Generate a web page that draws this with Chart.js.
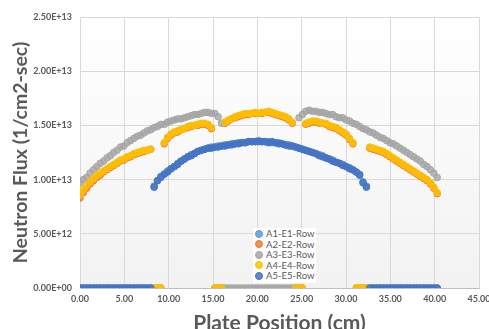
<!DOCTYPE html>
<html>
<head>
<meta charset="utf-8">
<script src="https://cdn.jsdelivr.net/npm/chart.js@4.4.1/dist/chart.umd.min.js"></script>
<style>
  html, body { margin: 0; padding: 0; background: #fff; }
  #wrap { position: relative; width: 489px; height: 329px; overflow: hidden; }
  #legend {
    position: absolute; left: 253px; top: 228px;
    background: #fff; padding: 1px 2px;
    font-family: Lato, 'Noto Sans', sans-serif; font-size: 9.5px; color: #595959;
    line-height: 10.6px;
  }
  #legend span.dot {
    display: inline-block; width: 6px; height: 6px; border-radius: 50%;
    margin-right: 3px; vertical-align: -0.5px;
  }
</style>
</head>
<body>
<div id="wrap">
  <canvas id="fluxChart" width="489" height="329"></canvas>
  <div id="legend"></div>
</div>
<script>
'use strict';

// plate positions (cm), shared by every row
var positions = [
  0.00, 0.38, 0.76, 1.14, 1.52, 1.90, 2.28, 2.66, 3.04, 3.42,
  3.80, 4.18, 4.56, 4.94, 5.32, 5.70, 6.08, 6.46, 6.84, 7.22,
  7.60, 7.98, 8.36, 8.74, 9.12, 9.50, 9.88, 10.26, 10.64, 11.02,
  11.40, 11.78, 12.16, 12.54, 12.92, 13.30, 13.68, 14.06, 14.44, 14.82,
  15.20, 15.58, 15.96, 16.34, 16.72, 17.10, 17.48, 17.86, 18.24, 18.62,
  19.00, 19.38, 19.76, 20.14, 20.52, 20.90, 21.28, 21.66, 22.04, 22.42,
  22.80, 23.18, 23.56, 23.94, 24.32, 24.70, 25.08, 25.46, 25.84, 26.22,
  26.60, 26.98, 27.36, 27.74, 28.12, 28.50, 28.88, 29.26, 29.64, 30.02,
  30.40, 30.78, 31.16, 31.54, 31.92, 32.30, 32.68, 33.06, 33.44, 33.82,
  34.20, 34.58, 34.96, 35.34, 35.72, 36.10, 36.48, 36.86, 37.24, 37.62,
  38.00, 38.38, 38.76, 39.14, 39.52, 39.90, 40.28
];

// flux values in units of 1E+13 /cm2-sec
var fluxA1 = [
  0, 0, 0, 0, 0, 0, 0, 0, 0, 0,
  0, 0, 0, 0, 0, 0, 0, 0, 0, 0,
  0, 0, 0.94, 0.99, 1.03, 1.05, 1.08, 1.10, 1.12, 1.15,
  1.17, 1.19, 1.21, 1.23, 1.24, 1.26, 1.27, 1.28, 1.29, 1.30,
  1.30, 1.31, 1.31, 1.32, 1.32, 1.33, 1.33, 1.34, 1.34, 1.34,
  1.35, 1.35, 1.35, 1.36, 1.35, 1.35, 1.35, 1.34, 1.34, 1.34,
  1.33, 1.32, 1.32, 1.31, 1.30, 1.29, 1.28, 1.27, 1.26, 1.25,
  1.24, 1.23, 1.22, 1.20, 1.19, 1.18, 1.16, 1.15, 1.14, 1.12,
  1.11, 1.09, 1.07, 1.05, 0.98, 0.94, 0, 0, 0, 0,
  0, 0, 0, 0, 0, 0, 0, 0, 0, 0,
  0, 0, 0, 0, 0, 0, 0
];
var fluxA2 = [
  0.83, 0.88, 0.92, 0.96, 0.99, 1.02, 1.04, 1.07, 1.09, 1.11,
  1.13, 1.15, 1.17, 1.18, 1.20, 1.21, 1.23, 1.24, 1.25, 1.26,
  1.27, 1.28, 0, 0, 0, 1.33, 1.38, 1.41, 1.43, 1.44,
  1.46, 1.47, 1.48, 1.49, 1.50, 1.50, 1.51, 1.51, 1.50, 1.47,
  0, 0, 0, 1.52, 1.54, 1.56, 1.57, 1.58, 1.59, 1.60,
  1.60, 1.61, 1.61, 1.61, 1.61, 1.62, 1.62, 1.61, 1.60, 1.59,
  1.58, 1.57, 1.55, 1.52, 0, 0, 0, 1.51, 1.52, 1.53,
  1.53, 1.52, 1.52, 1.51, 1.49, 1.48, 1.47, 1.45, 1.43, 1.41,
  1.37, 1.33, 0, 0, 0, 0, 1.29, 1.28, 1.27, 1.26,
  1.25, 1.23, 1.21, 1.19, 1.17, 1.15, 1.13, 1.11, 1.09, 1.07,
  1.05, 1.03, 1.01, 0.99, 0.96, 0.92, 0.87
];
var fluxA3 = [
  0.97, 1.00, 1.02, 1.06, 1.09, 1.12, 1.15, 1.17, 1.20, 1.22,
  1.25, 1.27, 1.30, 1.31, 1.34, 1.36, 1.38, 1.40, 1.41, 1.43,
  1.45, 1.46, 1.48, 1.49, 1.51, 1.51, 1.53, 1.54, 1.55, 1.56,
  1.56, 1.57, 1.58, 1.59, 1.60, 1.60, 1.61, 1.62, 1.62, 1.61,
  1.61, 1.58, 1.52, 0, 0, 0, 0, 0, 0, 0,
  0, 0, 0, 0, 0, 0, 0, 0, 0, 0,
  0, 0, 0, 0, 0, 1.57, 1.60, 1.63, 1.64, 1.63,
  1.63, 1.62, 1.62, 1.61, 1.60, 1.60, 1.58, 1.57, 1.57, 1.55,
  1.54, 1.52, 1.51, 1.49, 1.47, 1.46, 1.44, 1.43, 1.41, 1.39,
  1.38, 1.36, 1.34, 1.33, 1.31, 1.29, 1.27, 1.25, 1.23, 1.21,
  1.19, 1.17, 1.14, 1.12, 1.09, 1.06, 1.02
];
var fluxA4 = [
  0.86, 0.91, 0.95, 0.98, 1.01, 1.04, 1.06, 1.08, 1.10, 1.12,
  1.14, 1.16, 1.18, 1.19, 1.21, 1.22, 1.24, 1.25, 1.26, 1.27,
  1.27, 1.28, 0, 0, 0, 1.34, 1.39, 1.42, 1.44, 1.45,
  1.46, 1.47, 1.49, 1.50, 1.50, 1.51, 1.52, 1.52, 1.51, 1.48,
  0, 0, 0, 1.53, 1.55, 1.56, 1.58, 1.59, 1.60, 1.61,
  1.61, 1.61, 1.62, 1.61, 1.62, 1.62, 1.63, 1.62, 1.61, 1.60,
  1.59, 1.58, 1.56, 1.53, 0, 0, 0, 1.52, 1.53, 1.54,
  1.54, 1.53, 1.52, 1.52, 1.50, 1.49, 1.48, 1.46, 1.44, 1.42,
  1.38, 1.34, 0, 0, 0, 0, 1.30, 1.29, 1.28, 1.27,
  1.26, 1.24, 1.22, 1.20, 1.18, 1.16, 1.14, 1.12, 1.10, 1.08,
  1.06, 1.04, 1.02, 1.00, 0.97, 0.93, 0.88
];
var fluxA5 = [
  0, 0, 0, 0, 0, 0, 0, 0, 0, 0,
  0, 0, 0, 0, 0, 0, 0, 0, 0, 0,
  0, 0, 0.93, 0.99, 1.02, 1.05, 1.07, 1.10, 1.12, 1.14,
  1.17, 1.19, 1.21, 1.22, 1.24, 1.26, 1.27, 1.28, 1.29, 1.29,
  1.30, 1.30, 1.31, 1.31, 1.32, 1.32, 1.33, 1.33, 1.34, 1.34,
  1.35, 1.35, 1.35, 1.35, 1.35, 1.35, 1.34, 1.35, 1.34, 1.33,
  1.33, 1.32, 1.31, 1.31, 1.30, 1.29, 1.28, 1.27, 1.26, 1.25,
  1.24, 1.22, 1.21, 1.20, 1.19, 1.17, 1.16, 1.15, 1.13, 1.12,
  1.10, 1.09, 1.07, 1.04, 0.97, 0.93, 0, 0, 0, 0,
  0, 0, 0, 0, 0, 0, 0, 0, 0, 0,
  0, 0, 0, 0, 0, 0, 0
];

var seriesNames  = ['A1-E1-Row', 'A2-E2-Row', 'A3-E3-Row', 'A4-E4-Row', 'A5-E5-Row'];
var seriesValues = [fluxA1, fluxA2, fluxA3, fluxA4, fluxA5];
var seriesColors = ['#5B9BD5', '#ED7D31', '#A5A5A5', '#FFC000', '#4472C4'];

var xTickLabels = ['0.00', '5.00', '10.00', '15.00', '20.00', '25.00', '30.00', '35.00', '40.00', '45.00'];
var yTickLabels = ['0.00E+00', '5.00E+12', '1.00E+13', '1.50E+13', '2.00E+13', '2.50E+13'];

var FLUX_UNIT = 1e13;

function hexA(hex, a) {
  var n = parseInt(hex.slice(1), 16);
  return 'rgba(' + (n >> 16) + ',' + ((n >> 8) & 255) + ',' + (n & 255) + ',' + a + ')';
}

var datasets = seriesNames.map(function (name, s) {
  return {
    label: name,
    data: positions.map(function (x, i) { return { x: x, y: seriesValues[s][i] * FLUX_UNIT }; }),
    backgroundColor: hexA(seriesColors[s], 0.78),
    borderColor: seriesColors[s],
    borderWidth: 1,
    pointRadius: 3.3,
    // later rows sit on top, like the spreadsheet
    order: seriesNames.length - s
  };
});

// light plot-area shading
var plotBackground = {
  id: 'plotBackground',
  beforeDraw: function (chart) {
    var a = chart.chartArea, ctx = chart.ctx;
    var g = ctx.createLinearGradient(0, a.top, 0, a.bottom);
    g.addColorStop(0, '#ffffff');
    g.addColorStop(1, '#f2f2f2');
    ctx.save();
    ctx.fillStyle = g;
    ctx.fillRect(a.left, a.top, a.right - a.left, a.bottom - a.top);
    ctx.restore();
  }
};

var tickFont = { family: 'Lato, "Noto Sans", sans-serif', size: 9, weight: 'bold' };

new Chart(document.getElementById('fluxChart').getContext('2d'), {
  type: 'scatter',
  data: { datasets: datasets },
  plugins: [plotBackground],
  options: {
    responsive: false,
    animation: false,
    devicePixelRatio: 1,
    layout: { padding: { left: 0, right: 10, top: 17, bottom: 0 } },
    plugins: {
      legend: { display: false },
      tooltip: { enabled: false }
    },
    scales: {
      x: {
        type: 'linear',
        min: 0, max: 45,
        ticks: {
          stepSize: 5, padding: 6, color: '#595959', font: tickFont,
          maxRotation: 0,
          callback: function (v, i) { return xTickLabels[i]; }
        },
        grid: { color: '#d9d9d9', drawTicks: false },
        border: { color: '#bfbfbf' },
        title: {
          display: true, text: 'Plate Position (cm)', color: '#595959',
          font: { family: 'Lato, "Noto Sans", sans-serif', size: 21, weight: 'bold' },
          padding: { top: 0, bottom: -7 }
        },
        afterFit: function (s) { s.height = 41; s.paddingLeft = 0; s.paddingRight = 0; }
      },
      y: {
        type: 'linear',
        min: 0, max: 2.5e13,
        ticks: {
          stepSize: 5e12, padding: 8, color: '#595959', font: tickFont,
          callback: function (v, i) { return yTickLabels[i]; }
        },
        grid: { color: '#d9d9d9', drawTicks: false },
        border: { color: '#d9d9d9' },
        title: {
          display: true, text: 'Neutron Flux (1/cm2-sec)', color: '#595959',
          font: { family: 'Lato, "Noto Sans", sans-serif', size: 19.5, weight: 'bold' },
          padding: { top: 9, bottom: 0 }
        },
        afterFit: function (s) { s.width = 80; }
      }
    }
  }
});

// legend sits inside the plot area, as in the spreadsheet chart
var legendEl = document.getElementById('legend');
seriesNames.forEach(function (name, s) {
  var row = document.createElement('div');
  var dot = document.createElement('span');
  dot.className = 'dot';
  dot.style.background = hexA(seriesColors[s], 0.85);
  dot.style.border = '0.5px solid ' + seriesColors[s];
  row.appendChild(dot);
  row.appendChild(document.createTextNode(name));
  legendEl.appendChild(row);
});
</script>
</body>
</html>
